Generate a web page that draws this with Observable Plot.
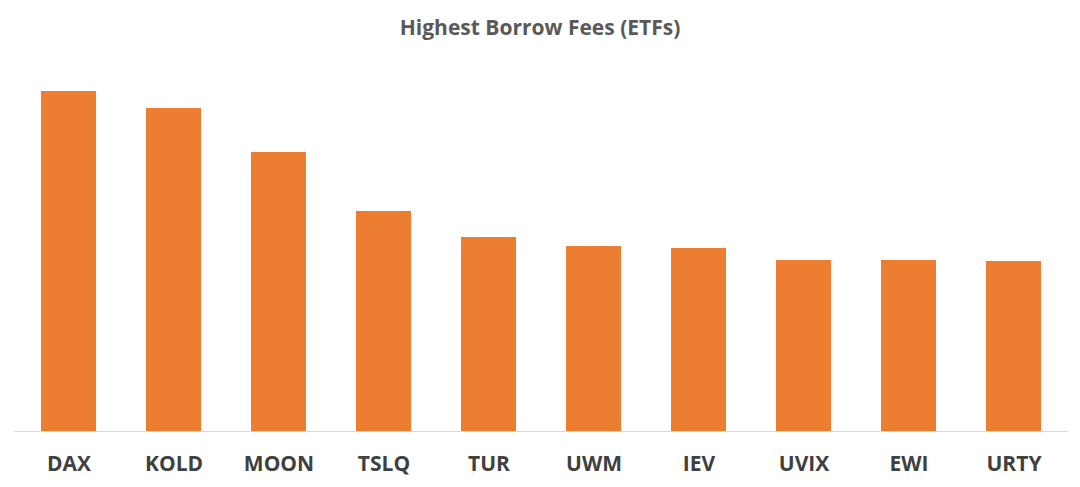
<!DOCTYPE html>
<html><head><meta charset="utf-8">
<script src="https://cdn.jsdelivr.net/npm/d3@7"></script>
<script src="https://cdn.jsdelivr.net/npm/@observablehq/plot@0.6"></script>
<style>
body{margin:0;background:#fff;font-family:"Open Sans",sans-serif;}
#t{height:50px;line-height:54px;text-align:center;font-size:21px;font-weight:bold;color:#595959;}
</style></head><body>
<div id="t">Highest Borrow Fees (ETFs)</div>
<div id="c"></div>
<script>
const tickers = ["DAX","KOLD","MOON","TSLQ","TUR","UWM","IEV","UVIX","EWI","URTY"];
const fees = [340,323,279,220,194,185,183,171,171,170];
const data = tickers.map((t,i)=>({t, v:fees[i]}));
const chart = Plot.plot({
  width:1080, height:437,
  marginLeft:14, marginRight:12, marginTop:41, marginBottom:56,
  x:{domain:tickers, paddingInner:0.48, paddingOuter:0.24, label:null, tickSize:0, tickPadding:25},
  y:{domain:[0,340], axis:null},
  style:{fontSize:"21px", fontWeight:"bold", color:"#404040", fontFamily:"'Open Sans',sans-serif"},
  marks:[
    Plot.barY(data,{x:"t", y:"v", fill:"#ED7D31"}),
    Plot.ruleY([0],{stroke:"#d9d9d9", strokeWidth:1})
  ]
});
document.getElementById("c").append(chart);
</script>
</body></html>
